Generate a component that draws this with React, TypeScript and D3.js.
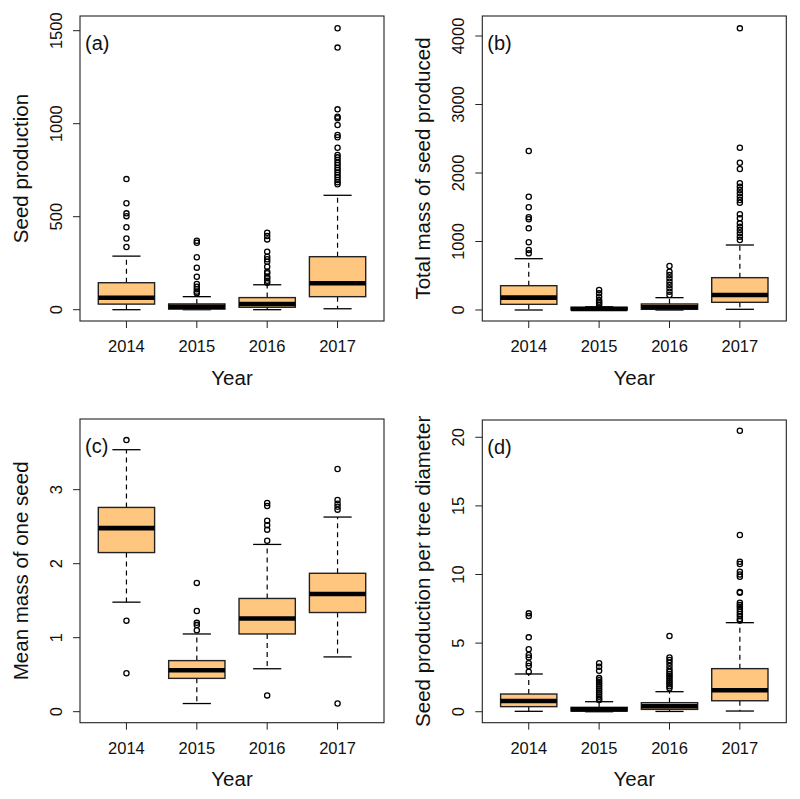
import React from "react";
import * as d3 from "d3";

// ---------- data ----------
const years = ["2014", "2015", "2016", "2017"];

// [lower whisker, Q1, median, Q3, upper whisker]
const seedProdStats = [
  [0, 30, 64, 145, 288],
  [0, 3, 16, 31, 70],
  [0, 13, 31, 65, 134],
  [5, 70, 142, 285, 615],
];
const seedProdOutliers = [
  [337, 383, 443, 503, 518, 572, 702],
  [88, 97, 110, 124, 138, 177, 226, 282, 360, 371],
  [145, 156, 169, 177, 196, 204, 231, 258, 271, 285, 312, 378, 396, 414],
  [674, 685, 697, 712, 724, 737, 751, 763, 778, 790, 805, 819, 832, 871, 927, 939, 993, 1029, 1038, 1077, 1409, 1513],
];

const totalMassStats = [
  [0, 83, 180, 355, 749],
  [0, 2, 15, 40, 48],
  [0, 10, 40, 88, 180],
  [10, 112, 219, 472, 949],
];
const totalMassOutliers = [
  [827, 876, 988, 1192, 1324, 1353, 1499, 1654, 2321],
  [73, 98, 121, 146, 194, 243, 292],
  [219, 268, 316, 365, 413, 462, 511, 559, 642],
  [1022, 1071, 1120, 1168, 1216, 1265, 1339, 1397, 1566, 1606, 1654, 1703, 1752, 1800, 1850, 2058, 2150, 2369, 4112],
];

const meanMassStats = [
  [1.48, 2.15, 2.48, 2.76, 3.54],
  [0.11, 0.45, 0.56, 0.69, 1.05],
  [0.58, 1.05, 1.26, 1.53, 2.26],
  [0.74, 1.34, 1.59, 1.87, 2.63],
];
const meanMassOutliers = [
  [0.52, 1.23, 3.67],
  [1.1, 1.17, 1.2, 1.36, 1.74],
  [0.22, 2.31, 2.46, 2.52, 2.58, 2.78, 2.82],
  [0.11, 2.73, 2.77, 2.81, 2.86, 3.28],
];

const perDiamStats = [
  [0.03, 0.37, 0.78, 1.29, 2.75],
  [0, 0.05, 0.17, 0.32, 0.73],
  [0.02, 0.17, 0.4, 0.66, 1.46],
  [0.05, 0.8, 1.56, 3.14, 6.49],
];
const perDiamOutliers = [
  [2.92, 3.33, 3.53, 3.96, 4.13, 4.55, 5.42, 6.97, 7.17],
  [0.85, 0.95, 1.1, 1.25, 1.4, 1.55, 1.7, 1.85, 2.0, 2.15, 2.3, 2.45, 2.99, 3.28, 3.53],
  [1.71, 1.85, 2.0, 2.15, 2.3, 2.45, 2.6, 2.75, 2.92, 3.09, 3.33, 3.57, 3.77, 3.96, 5.52],
  [6.64, 6.76, 6.95, 7.13, 7.3, 7.49, 7.65, 7.78, 7.95, 8.67, 8.72, 9.84, 10.0, 10.2, 10.77, 10.93, 12.88, 20.48],
];

const seedProdTicks = [0, 500, 1000, 1500];
const totalMassTicks = [0, 1000, 2000, 3000, 4000];
const meanMassTicks = [0, 1, 2, 3];
const perDiamTicks = [0, 5, 10, 15, 20];

// ---------- layout ----------
const FONT = "'Liberation Sans', Arial, Helvetica, sans-serif";
const FILL = "#FFC680";

interface PanelDef {
  label: string;
  title: string;
  stats: number[][];
  outliers: number[][];
  ticks: number[];
  domain: [number, number];
  x0: number; x1: number; y0: number; y1: number;
}

const panels: PanelDef[] = [
  { label: "(a)", title: "Seed production", stats: seedProdStats, outliers: seedProdOutliers, ticks: seedProdTicks, domain: [-60.8, 1579], x0: 80, x1: 384, y0: 16, y1: 321 },
  { label: "(b)", title: "Total mass of seed produced", stats: totalMassStats, outliers: totalMassOutliers, ticks: totalMassTicks, domain: [-160.6, 4292], x0: 482.3, x1: 786.3, y0: 16, y1: 321 },
  { label: "(c)", title: "Mean mass of one seed", stats: meanMassStats, outliers: meanMassOutliers, ticks: meanMassTicks, domain: [-0.149, 3.955], x0: 80, x1: 384, y0: 419, y1: 722.7 },
  { label: "(d)", title: "Seed production per tree diameter", stats: perDiamStats, outliers: perDiamOutliers, ticks: perDiamTicks, domain: [-0.8, 21.26], x0: 482.3, x1: 786.3, y0: 420, y1: 722.7 },
];

function Panel({ p }: { p: PanelDef }) {
  const x = d3.scaleLinear().domain([0.34, 4.66]).range([p.x0, p.x1]);
  const y = d3.scaleLinear().domain(p.domain).range([p.y1, p.y0]);
  const bw = 0.4; // half box width in units
  const sw = 0.2; // half staple width
  const cy = (p.y0 + p.y1) / 2;
  const cx = (p.x0 + p.x1) / 2;
  return (
    <g>
      {years.map((yr, i) => {
        const c = i + 1;
        const [lo, q1, med, q3, hi] = p.stats[i];
        return (
          <g key={yr}>
            <line x1={x(c)} x2={x(c)} y1={y(q3)} y2={y(hi)} stroke="#000" strokeWidth={1.2} strokeDasharray="5,4" />
            <line x1={x(c)} x2={x(c)} y1={y(q1)} y2={y(lo)} stroke="#000" strokeWidth={1.2} strokeDasharray="5,4" />
            <line x1={x(c - sw)} x2={x(c + sw)} y1={y(hi)} y2={y(hi)} stroke="#000" strokeWidth={1.3} />
            <line x1={x(c - sw)} x2={x(c + sw)} y1={y(lo)} y2={y(lo)} stroke="#000" strokeWidth={1.3} />
            <rect x={x(c - bw)} width={x(c + bw) - x(c - bw)} y={y(q3)} height={Math.max(0.5, y(q1) - y(q3))} fill={FILL} stroke="#222" strokeWidth={1.4} />
            <line x1={x(c - bw)} x2={x(c + bw)} y1={y(med)} y2={y(med)} stroke="#000" strokeWidth={4.6} />
            {p.outliers[i].map((v, j) => (
              <circle key={j} cx={x(c)} cy={y(v)} r={2.6} fill="none" stroke="#000" strokeWidth={1.3} />
            ))}
          </g>
        );
      })}
      <rect x={p.x0} y={p.y0} width={p.x1 - p.x0} height={p.y1 - p.y0} fill="none" stroke="#222" strokeWidth={1.1} />
      {/* y axis */}
      {p.ticks.map((t) => (
        <g key={t}>
          <line x1={p.x0 - 7} x2={p.x0} y1={y(t)} y2={y(t)} stroke="#222" strokeWidth={1} />
          <text transform={`translate(${p.x0 - 18},${y(t)}) rotate(-90)`} textAnchor="middle" fontSize={16.5} fontFamily={FONT} fill="#111">{t}</text>
        </g>
      ))}
      {/* x axis */}
      {years.map((yr, i) => (
        <g key={yr}>
          <line x1={x(i + 1)} x2={x(i + 1)} y1={p.y1} y2={p.y1 + 7} stroke="#222" strokeWidth={1} />
          <text x={x(i + 1)} y={p.y1 + 31} textAnchor="middle" fontSize={16.5} fontFamily={FONT} fill="#111">{yr}</text>
        </g>
      ))}
      <text x={cx} y={p.y1 + 63.5} textAnchor="middle" fontSize={20.5} fontFamily={FONT} fill="#111">Year</text>
      <text transform={`translate(${p.x0 - 52},${cy}) rotate(-90)`} textAnchor="middle" fontSize={20.5} fontFamily={FONT} fill="#111">{p.title}</text>
      <text x={p.x0 + 5} y={p.y0 + 34} fontSize={20} fontFamily={FONT} fill="#111">{p.label}</text>
    </g>
  );
}

export default function App() {
  return (
    <svg width={800} height={799} style={{ position: "absolute", left: 0, top: 0, background: "#fff" }}>
      <rect x={0} y={0} width={800} height={799} fill="#fff" />
      {panels.map((p) => (
        <Panel key={p.label} p={p} />
      ))}
    </svg>
  );
}
